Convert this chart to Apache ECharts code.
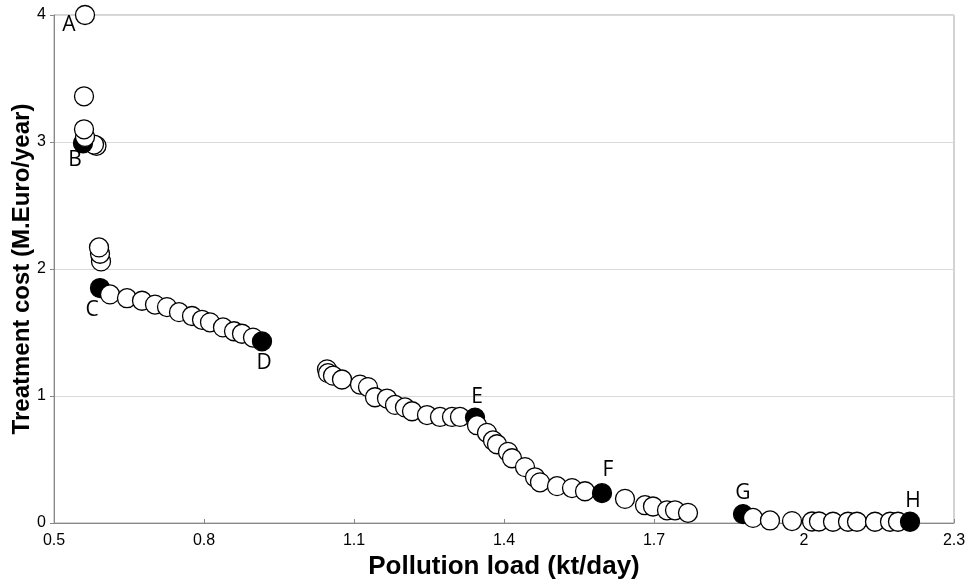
<!DOCTYPE html>
<html>
<head>
<meta charset="utf-8">
<script src="https://cdn.jsdelivr.net/npm/echarts@6/dist/echarts.min.js"></script>
<style>
html,body{margin:0;padding:0;background:#fff;}
#chart{width:972px;height:581px;}
</style>
</head>
<body>
<div id="chart"></div>
<script>
// Pollution load (kt/day) for each solution, in drawing order
const loads = [
  0.562, 0.560, 0.585, 0.580, 0.558, 0.562, 0.560,
  0.594, 0.592, 0.590,
  0.592, 0.612, 0.646, 0.676, 0.702, 0.726, 0.750, 0.776, 0.796, 0.812, 0.838, 0.860, 0.876, 0.898, 0.916,
  1.046, 1.048, 1.058, 1.076, 1.112, 1.128, 1.142, 1.166, 1.182, 1.202, 1.216, 1.246, 1.272, 1.296, 1.312, 1.342,
  1.346, 1.366, 1.378, 1.386, 1.408, 1.416, 1.442, 1.462, 1.472, 1.506, 1.536, 1.562, 1.596,
  1.642, 1.682, 1.698, 1.726, 1.742, 1.768,
  1.878, 1.898, 1.932, 1.976, 2.016, 2.030, 2.058, 2.088, 2.106, 2.142, 2.172, 2.188, 2.212
];
// Treatment cost (M.Euro/year)
const costs = [
  4.00, 3.36, 2.97, 2.98, 2.99, 3.04, 3.10,
  2.06, 2.12, 2.17,
  1.85, 1.80, 1.77, 1.75, 1.72, 1.70, 1.66, 1.63, 1.60, 1.58, 1.54, 1.51, 1.49, 1.46, 1.43,
  1.21, 1.18, 1.16, 1.13, 1.09, 1.07, 0.99, 0.98, 0.93, 0.91, 0.88, 0.85, 0.835, 0.835, 0.835, 0.83,
  0.77, 0.71, 0.65, 0.62, 0.56, 0.51, 0.44, 0.36, 0.32, 0.29, 0.275, 0.25, 0.235,
  0.19, 0.14, 0.13, 0.10, 0.10, 0.08,
  0.07, 0.04, 0.02, 0.015, 0.012, 0.012, 0.01, 0.01, 0.01, 0.01, 0.01, 0.01, 0.01
];
// Named key solutions (index into the arrays above)
const keyNames = ['A', 'B', 'C', 'D', 'E', 'F', 'G', 'H'];
const keyIndex = [0, 4, 10, 24, 40, 53, 60, 72];
const keySolid = [false, true, true, true, true, true, true, true];

const xTicks = ['0.5', '0.8', '1.1', '1.4', '1.7', '2', '2.3'];
const yTicks = ['0', '1', '2', '3', '4'];

// label placement (style only)
const labelOffsets = {
  A: [-16, 10], B: [-8, 17], C: [-8, 22], D: [2, 22],
  E: [2, -21], F: [6, -23], G: [0, -21], H: [3, -21]
};

const data = loads.map((x, i) => {
  const item = { value: [x, costs[i]] };
  const k = keyIndex.indexOf(i);
  if (k >= 0) {
    const name = keyNames[k];
    if (keySolid[k]) item.itemStyle = { color: '#000' };
    item.label = {
      show: true, formatter: name, position: 'inside',
      offset: labelOffsets[name],
      color: '#000', fontSize: 21, fontFamily: 'Open Sans'
    };
  }
  return item;
});

const chart = echarts.init(document.getElementById('chart'), null, { renderer: 'canvas' });
chart.setOption({
  animation: false,
  backgroundColor: '#fff',
  grid: {
    left: 54, right: 18, top: 15, bottom: 58,
    outerBoundsMode: 'none', containLabel: false,
    show: true, borderColor: '#a6a6a6', borderWidth: 1, backgroundColor: 'transparent'
  },
  xAxis: {
    type: 'value', min: 0.5, max: 2.3, interval: 0.3,
    name: 'Pollution load (kt/day)', nameLocation: 'middle', nameGap: 31, nameMoveOverlap: false,
    nameTextStyle: { fontFamily: 'Liberation Sans', fontWeight: 'bold', fontSize: 26, color: '#000' },
    axisLine: { lineStyle: { color: '#888', width: 1 } },
    axisTick: { show: true, inside: true, length: 4, lineStyle: { color: '#888' } },
    splitLine: { show: false },
    axisLabel: {
      color: '#000', fontSize: 16, fontFamily: 'Liberation Sans Narrow, Liberation Sans', margin: 10,
      formatter: v => {
        const i = Math.round((v - 0.5) / 0.3);
        return xTicks[i] !== undefined ? xTicks[i] : '';
      }
    }
  },
  yAxis: {
    type: 'value', min: 0, max: 4, interval: 1,
    name: 'Treatment cost (M.Euro/year)', nameLocation: 'middle', nameGap: 20, nameRotate: 90, nameMoveOverlap: false,
    nameTextStyle: { fontFamily: 'Liberation Sans', fontWeight: 'bold', fontSize: 24, color: '#000' },
    axisLine: { show: true, lineStyle: { color: '#888', width: 1 } },
    axisTick: { show: true, length: 4, lineStyle: { color: '#888' } },
    splitLine: { show: true, lineStyle: { color: '#d9d9d9', width: 1 } },
    axisLabel: {
      color: '#000', fontSize: 16, fontFamily: 'Liberation Sans Narrow, Liberation Sans', margin: 8,
      formatter: v => yTicks[Math.round(v)] !== undefined ? yTicks[Math.round(v)] : ''
    }
  },
  series: [{
    type: 'scatter',
    clip: false,
    symbol: 'circle',
    symbolSize: 19,
    itemStyle: { color: '#fff', borderColor: '#000', borderWidth: 1.3, opacity: 1 },
    data: data
  }]
});
</script>
</body>
</html>
